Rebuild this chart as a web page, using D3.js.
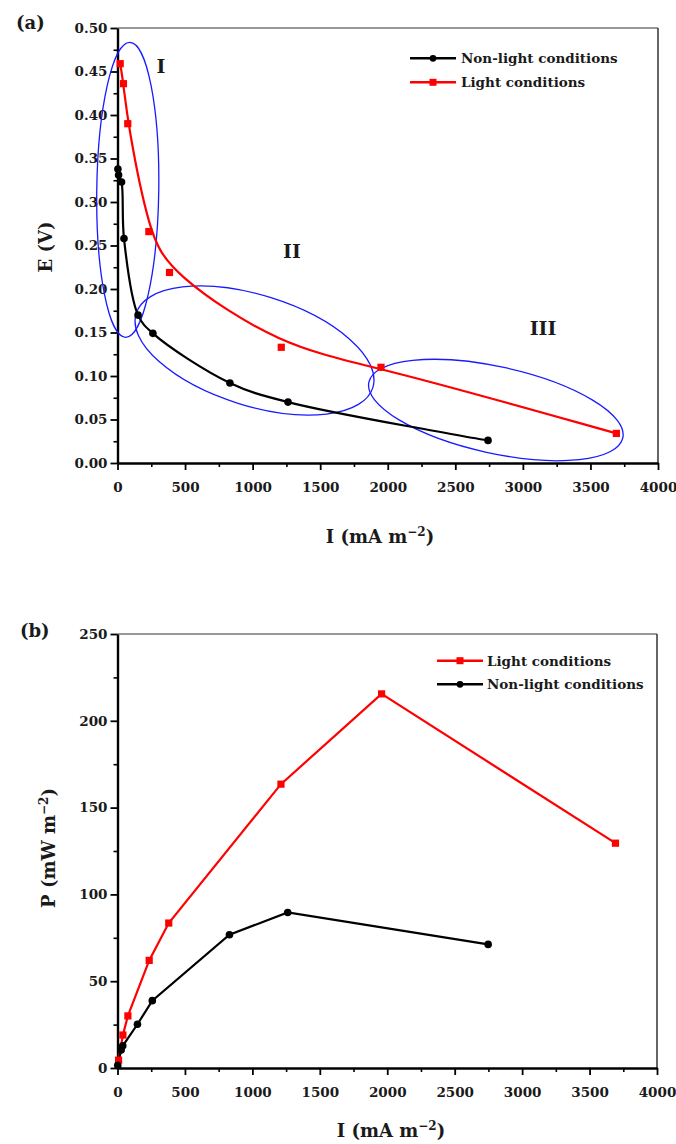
<!DOCTYPE html>
<html><head><meta charset="utf-8">
<script src="https://cdn.jsdelivr.net/npm/d3@7"></script>
<style>
body{margin:0;background:#fff}
svg{display:block}
text{font-family:"DejaVu Serif",serif;font-weight:bold;fill:#1a1a1a}
</style>
</head><body><svg id="c" width="676" height="1144"></svg>
<script>
// ---------- Panel (a): E (V) vs I (mA m-2) ----------
const aNonLightI = [3, 8, 30, 48, 152, 262, 832, 1262, 2742];
const aNonLightE = [0.338, 0.331, 0.323, 0.258, 0.170, 0.149, 0.092, 0.070, 0.026];
const aLightI = [20, 44, 76, 232, 385, 1212, 1950, 3692];
const aLightE = [0.459, 0.436, 0.390, 0.266, 0.219, 0.133, 0.110, 0.034];
// ---------- Panel (b): P (mW m-2) vs I (mA m-2) ----------
const bLightI = [8, 40, 77, 235, 380, 1212, 1958, 3692];
const bLightP = [4.5, 19, 30, 62, 83.5, 163.5, 215.5, 129.5];
const bNonLightI = [2, 27, 39, 148, 258, 830, 1262, 2748];
const bNonLightP = [1.5, 10.4, 12.8, 25.2, 38.8, 76.8, 89.6, 71.2];
// ---------- ticks ----------
const xTicks = [0, 500, 1000, 1500, 2000, 2500, 3000, 3500, 4000];
const xMinor = [250, 750, 1250, 1750, 2250, 2750, 3250, 3750];
const aYTicks = [0, 0.05, 0.10, 0.15, 0.20, 0.25, 0.30, 0.35, 0.40, 0.45, 0.50];
const aYMinor = [0.025, 0.075, 0.125, 0.175, 0.225, 0.275, 0.325, 0.375, 0.425, 0.475];
const bYTicks = [0, 50, 100, 150, 200, 250];
const bYMinor = [25, 75, 125, 175, 225];
// ---------- region annotations (panel a) ----------
const regionNames = ["I", "II", "III"];
const regionLabelI = [322, 1291, 3149];
const regionLabelE = [0.448, 0.2356, 0.147];
const ellipseCenterI = [76, 1014, 2800];
const ellipseCenterE = [0.314, 0.1293, 0.0609];
const legendA = ["Non-light conditions", "Light conditions"];
const legendB = ["Light conditions", "Non-light conditions"];

const RED = "#ff0000", BLACK = "#000000", BLUE = "#1a1aff";
const svg = d3.select("#c");
svg.append("rect").attr("width", 676).attr("height", 1144).attr("fill", "#fff");

function panel(o) {
  const x = d3.scaleLinear().domain([0, 4000]).range([o.left, o.right]);
  const y = d3.scaleLinear().domain(o.yDomain).range([o.bottom, o.top]);
  const g = svg.append("g");
  // frame top/right
  g.append("line").attr("x1", o.left).attr("x2", o.right).attr("y1", o.top).attr("y2", o.top)
    .attr("stroke", "#333").attr("stroke-width", 1.2);
  g.append("line").attr("x1", o.right).attr("x2", o.right).attr("y1", o.top).attr("y2", o.bottom)
    .attr("stroke", "#333").attr("stroke-width", 1.5);
  // minor ticks
  g.append("g").attr("transform", `translate(0,${o.bottom})`)
    .call(d3.axisBottom(x).tickValues(xMinor).tickSize(4).tickSizeOuter(0).tickFormat(""))
    .call(s => { s.select(".domain").remove(); s.selectAll("line").attr("stroke-width", 1.6); });
  g.append("g").attr("transform", `translate(${o.left},0)`)
    .call(d3.axisLeft(y).tickValues(o.yMinor).tickSize(4).tickSizeOuter(0).tickFormat(""))
    .call(s => { s.select(".domain").remove(); s.selectAll("line").attr("stroke-width", 1.6); });
  // major axes
  const xa = g.append("g").attr("transform", `translate(0,${o.bottom})`)
    .call(d3.axisBottom(x).tickValues(xTicks).tickSize(7).tickSizeOuter(0).tickPadding(12).tickFormat(d3.format("d")));
  const ya = g.append("g").attr("transform", `translate(${o.left},0)`)
    .call(d3.axisLeft(y).tickValues(o.yTicks).tickSize(7).tickSizeOuter(0).tickPadding(3).tickFormat(o.yFmt));
  [xa, ya].forEach(a => {
    a.select(".domain").attr("stroke-width", 2.4);
    a.selectAll(".tick line").attr("stroke-width", 1.8);
    a.selectAll("text").attr("font-size", 13.5).attr("font-family", "DejaVu Serif").attr("font-weight", "bold").attr("fill", "#1a1a1a");
  });
  return {x, y, g};
}

// ---------- Panel (a) ----------
const A = panel({left: 117.5, right: 658, top: 28, bottom: 463, yDomain: [0, 0.5],
  yTicks: aYTicks, yMinor: aYMinor, yFmt: d3.format(".2f")});

// ellipses
const ellipseRx = [31, 124, 130], ellipseRy = [147.5, 55.3, 43.3], ellipseRot = [0.8, 17.4, 12.4];
regionNames.forEach((n, i) => {
  A.g.append("ellipse")
    .attr("transform", `translate(${A.x(ellipseCenterI[i])},${A.y(ellipseCenterE[i])}) rotate(${ellipseRot[i]})`)
    .attr("rx", ellipseRx[i]).attr("ry", ellipseRy[i])
    .attr("fill", "none").attr("stroke", BLUE).attr("stroke-width", 1.3);
  A.g.append("text").attr("x", A.x(regionLabelI[i])).attr("y", A.y(regionLabelE[i]))
    .attr("text-anchor", "middle").attr("font-size", 19).text(n);
});

const aBlack = aNonLightI.map((v, i) => [v, aNonLightE[i]]);
const aRed = aLightI.map((v, i) => [v, aLightE[i]]);
A.g.append("path").datum(aBlack).attr("fill", "none").attr("stroke", BLACK).attr("stroke-width", 2.2)
  .attr("d", d3.line().x(d => A.x(d[0])).y(d => A.y(d[1])).curve(d3.curveCatmullRom.alpha(0.5)));
A.g.append("path").datum(aRed).attr("fill", "none").attr("stroke", RED).attr("stroke-width", 2.2)
  .attr("d", d3.line().x(d => A.x(d[0])).y(d => A.y(d[1])).curve(d3.curveBasis));
A.g.selectAll(".pb").data(aBlack).enter().append("circle")
  .attr("cx", d => A.x(d[0])).attr("cy", d => A.y(d[1])).attr("r", 3.8).attr("fill", BLACK);
A.g.selectAll(".pr").data(aRed).enter().append("rect")
  .attr("x", d => A.x(d[0]) - 3.6).attr("y", d => A.y(d[1]) - 3.6).attr("width", 7.2).attr("height", 7.2).attr("fill", RED);

// ---------- Panel (b) ----------
const B = panel({left: 117.5, right: 657, top: 634, bottom: 1068, yDomain: [0, 250],
  yTicks: bYTicks, yMinor: bYMinor, yFmt: d3.format("d")});
const bRed = bLightI.map((v, i) => [v, bLightP[i]]);
const bBlack = bNonLightI.map((v, i) => [v, bNonLightP[i]]);
B.g.append("path").datum(bRed).attr("fill", "none").attr("stroke", RED).attr("stroke-width", 2.2)
  .attr("d", d3.line().x(d => B.x(d[0])).y(d => B.y(d[1])));
B.g.append("path").datum(bBlack).attr("fill", "none").attr("stroke", BLACK).attr("stroke-width", 2.2)
  .attr("d", d3.line().x(d => B.x(d[0])).y(d => B.y(d[1])));
B.g.selectAll(".pr").data(bRed).enter().append("rect")
  .attr("x", d => B.x(d[0]) - 3.6).attr("y", d => B.y(d[1]) - 3.6).attr("width", 7.2).attr("height", 7.2).attr("fill", RED);
B.g.selectAll(".pb").data(bBlack).enter().append("circle")
  .attr("cx", d => B.x(d[0])).attr("cy", d => B.y(d[1])).attr("r", 3.8).attr("fill", BLACK);

// ---------- legends ----------
function legend(items, colors, shapes, x0, x1, ys, tx) {
  items.forEach((t, i) => {
    const yy = ys[i];
    svg.append("line").attr("x1", x0).attr("x2", x1).attr("y1", yy).attr("y2", yy)
      .attr("stroke", colors[i]).attr("stroke-width", 2.4);
    const cx = (x0 + x1) / 2;
    if (shapes[i] === "c") svg.append("circle").attr("cx", cx).attr("cy", yy).attr("r", 3.4).attr("fill", colors[i]);
    else svg.append("rect").attr("x", cx - 3.5).attr("y", yy - 3.5).attr("width", 7).attr("height", 7).attr("fill", colors[i]);
    svg.append("text").attr("x", tx).attr("y", yy + 5).attr("font-size", 13.5).text(t);
  });
}
legend(legendA, [BLACK, RED], ["c", "s"], 410, 456, [58.3, 82.3], 461);
legend(legendB, [RED, BLACK], ["s", "c"], 437, 483, [660.7, 684.3], 487);

// ---------- titles ----------
function xTitle(cx, by) {
  const t = svg.append("text").attr("x", cx).attr("y", by).attr("text-anchor", "middle").attr("font-size", 18);
  t.append("tspan").text("I (mA m");
  t.append("tspan").attr("dy", -7).attr("font-size", 12).text("−2");
  t.append("tspan").attr("dy", 7).text(")");
}
xTitle(380, 543);
xTitle(391, 1137);
svg.append("text").attr("transform", "translate(52,247) rotate(-90)").attr("text-anchor", "middle")
  .attr("font-size", 18).text("E (V)");
const pt = svg.append("text").attr("transform", "translate(55,848) rotate(-90)").attr("text-anchor", "middle")
  .attr("font-size", 18);
pt.append("tspan").text("P (mW m");
pt.append("tspan").attr("dy", -7).attr("font-size", 12).text("−2");
pt.append("tspan").attr("dy", 7).text(")");
svg.append("text").attr("x", 16).attr("y", 29).attr("font-size", 18).text("(a)");
svg.append("text").attr("x", 20).attr("y", 637).attr("font-size", 18).text("(b)");
</script>
</body></html>
